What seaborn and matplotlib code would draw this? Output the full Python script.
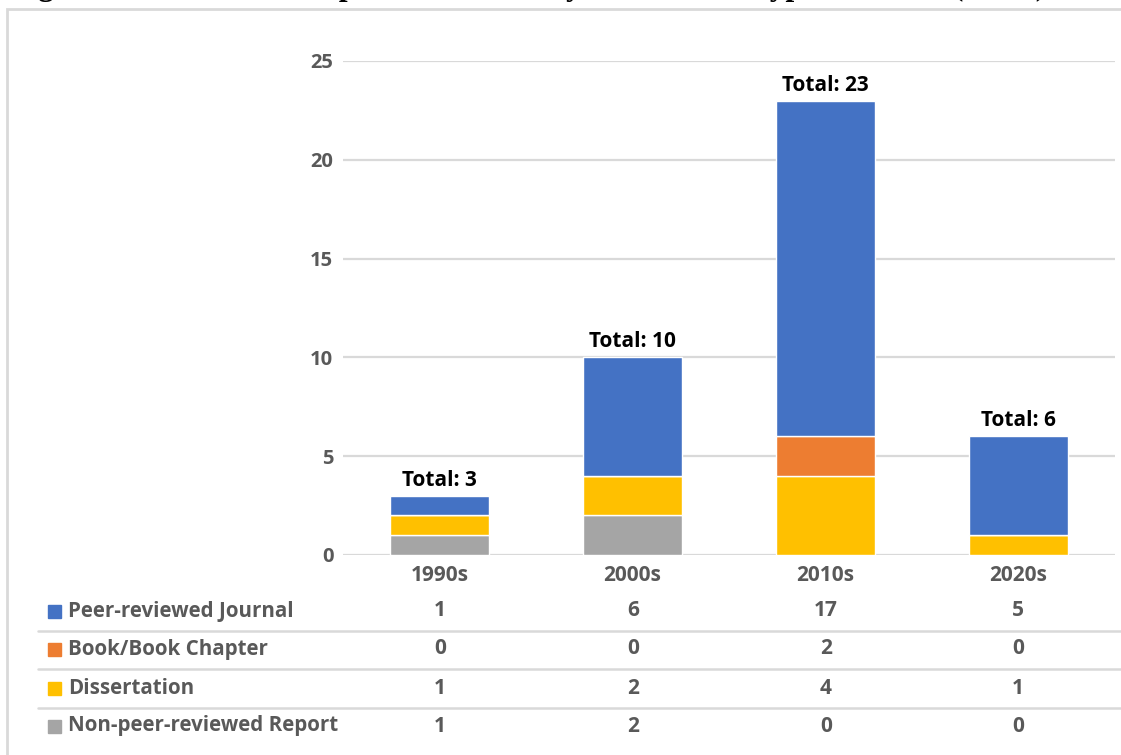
import matplotlib
matplotlib.use("Agg")
import matplotlib.pyplot as plt
from matplotlib.patches import Rectangle
from matplotlib.lines import Line2D
import seaborn as sns
import numpy as np

# Data
decades = ["1990s", "2000s", "2010s", "2020s"]
series_names = ["Peer-reviewed Journal", "Book/Book Chapter", "Dissertation", "Non-peer-reviewed Report"]
peer_reviewed = [1, 6, 17, 5]
book_chapter = [0, 0, 2, 0]
dissertation = [1, 2, 4, 1]
non_peer_report = [1, 2, 0, 0]
series_colors = ["#4472C4", "#ED7D31", "#FFC000", "#A5A5A5"]
title_text = "Figure 1. Number of Empirical Studies, by Publication Type and Year (N=42)"

series_values = [peer_reviewed, book_chapter, dissertation, non_peer_report]

sns.set_theme(style="white")
plt.rcParams["font.family"] = ["Open Sans", "DejaVu Sans"]

W, H = 1121, 755
fig = plt.figure(figsize=(W / 100, H / 100), dpi=100)

def fx(px):
    return px / W

def fy(py):
    return 1 - py / H

# chart frame
fig.patches.append(Rectangle((fx(7), fy(760)), fx(1130), fy(9) - fy(760),
                             transform=fig.transFigure, fill=False,
                             edgecolor="#D9D9D9", linewidth=2))

# title sits above the frame, mostly beyond the top edge
fig.text(fx(10), fy(-5), title_text, family="Liberation Serif", weight="bold",
         fontsize=22.7, ha="left", va="baseline", color="black")

ax = fig.add_axes([fx(343), fy(555), fx(1115) - fx(343), fy(61) - fy(555)])

text_gray = "#595959"
grid_gray = "#D9D9D9"

# stacked bars, bottom series first
stack_order = [3, 2, 1, 0]
bottom = np.zeros(len(decades))
for i in stack_order:
    vals = np.array(series_values[i], dtype=float)
    sns.barplot(x=decades, y=vals, bottom=bottom, color=series_colors[i],
                width=0.51, saturation=1, ax=ax, zorder=3)
    bottom = bottom + vals

totals = bottom
for k, t in enumerate(totals):
    ax.text(k, t + 0.25, f"Total: {int(t)}", ha="center", va="bottom",
            fontsize=15, weight="bold", color="black")

ax.set_ylim(0, 25)
ax.set_xlim(-0.5, len(decades) - 0.5)
ax.set_yticks([0, 5, 10, 15, 20, 25])
ax.yaxis.grid(True, color=grid_gray, linewidth=1.6, zorder=0)
ax.set_axisbelow(True)
for s in ax.spines.values():
    s.set_visible(False)
ax.tick_params(axis="y", length=0, pad=7, labelsize=14.5, labelcolor=text_gray)
ax.tick_params(axis="x", length=0, pad=7, labelsize=15, labelcolor=text_gray)
for lab in ax.get_yticklabels() + ax.get_xticklabels():
    lab.set_fontweight("bold")
ax.set_xlabel("")
ax.set_ylabel("")

# data table below the axis
row_y = [611, 649, 688, 726]
col_x = [440, 633, 826, 1018]
for r, (name, vals, col) in enumerate(zip(series_names, series_values, series_colors)):
    y = row_y[r]
    fig.patches.append(Rectangle((fx(48), fy(y + 7)), fx(13), fy(y - 6) - fy(y + 7),
                                 transform=fig.transFigure, color=col))
    fig.text(fx(68), fy(y), name, ha="left", va="center", fontsize=14.8,
             weight="bold", color=text_gray)
    for c, v in enumerate(vals):
        fig.text(fx(col_x[c]), fy(y), str(v), ha="center", va="center",
                 fontsize=15, weight="bold", color=text_gray)

for y in [631, 669, 708]:
    fig.lines.append(Line2D([fx(38), fx(1121)], [fy(y), fy(y)],
                            transform=fig.transFigure, color=grid_gray, linewidth=1.8))

fig.savefig("out.png", dpi=100)
